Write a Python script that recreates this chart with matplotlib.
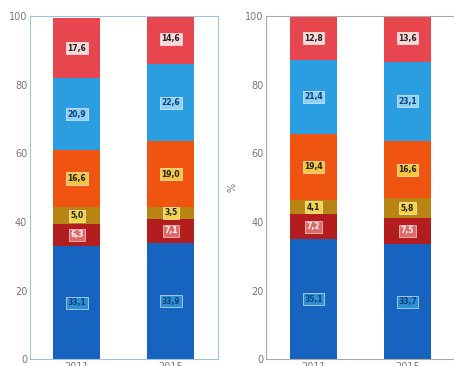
import matplotlib
matplotlib.use("Agg")
import matplotlib.pyplot as plt
import numpy as np

years_left = ["2011", "2015"]
years_right = ["2011", "2015"]

# segments, bottom to top
left_blue = [33.1, 33.9]
left_darkred = [6.3, 7.1]
left_gold = [5.0, 3.5]
left_orange = [16.6, 19.0]
left_lightblue = [20.9, 22.6]
left_red = [17.6, 14.6]

right_blue = [35.1, 33.7]
right_darkred = [7.2, 7.5]
right_gold = [4.1, 5.8]
right_orange = [19.4, 16.6]
right_lightblue = [21.4, 23.1]
right_red = [12.8, 13.6]

colors = ["#1763c0", "#b31d1d", "#b98512", "#ef5410", "#2a9ee0", "#e8464f"]
box_colors = ["#2f8fd6", "#e06a6a", "#f2d34a", "#f6c640", "#8fd0f5", "#f7d8d8"]
text_colors = ["#0d3f7a", "#ffffff", "#222222", "#222222", "#0d3f7a", "#222222"]


def stacked(ax, labels, series):
    x = np.arange(len(labels))
    bottom = np.zeros(len(labels))
    for vals, col, bcol, tcol in zip(series, colors, box_colors, text_colors):
        vals = np.array(vals)
        ax.bar(x, vals, 0.5, bottom=bottom, color=col, edgecolor="none")
        for xi, b, v in zip(x, bottom, vals):
            ax.text(xi, b + v / 2, f"{v:.1f}".replace(".", ","), ha="center", va="center",
                    fontsize=5.5, fontweight="bold", color=tcol,
                    bbox=dict(boxstyle="square,pad=0.2", fc=bcol, ec="white", lw=0.4))
        bottom = bottom + vals
    ax.set_xlim(-0.5, 1.5)
    ax.set_ylim(0, 100)
    ax.set_xticks(x)
    ax.set_xticklabels(labels)
    ax.set_yticks([0, 20, 40, 60, 80, 100])
    ax.tick_params(labelsize=7, colors="#777777", length=0, pad=2)


fig = plt.figure(figsize=(4.54, 3.66), dpi=100)
ax1 = fig.add_axes([0.066, 0.018, 0.414, 0.938])
ax2 = fig.add_axes([0.587, 0.018, 0.414, 0.938])

stacked(ax1, years_left, [left_blue, left_darkred, left_gold, left_orange, left_lightblue, left_red])
stacked(ax2, years_right, [right_blue, right_darkred, right_gold, right_orange, right_lightblue, right_red])

for s in ax1.spines.values():
    s.set_color("#9ec3dc")
    s.set_linewidth(0.8)
for s in ax2.spines.values():
    s.set_color("#aaaaaa")
    s.set_linewidth(0.8)
ax2.spines["right"].set_visible(False)
ax2.set_ylabel("%", fontsize=7, color="#777777", labelpad=6)

fig.savefig("out.png", dpi=100)
